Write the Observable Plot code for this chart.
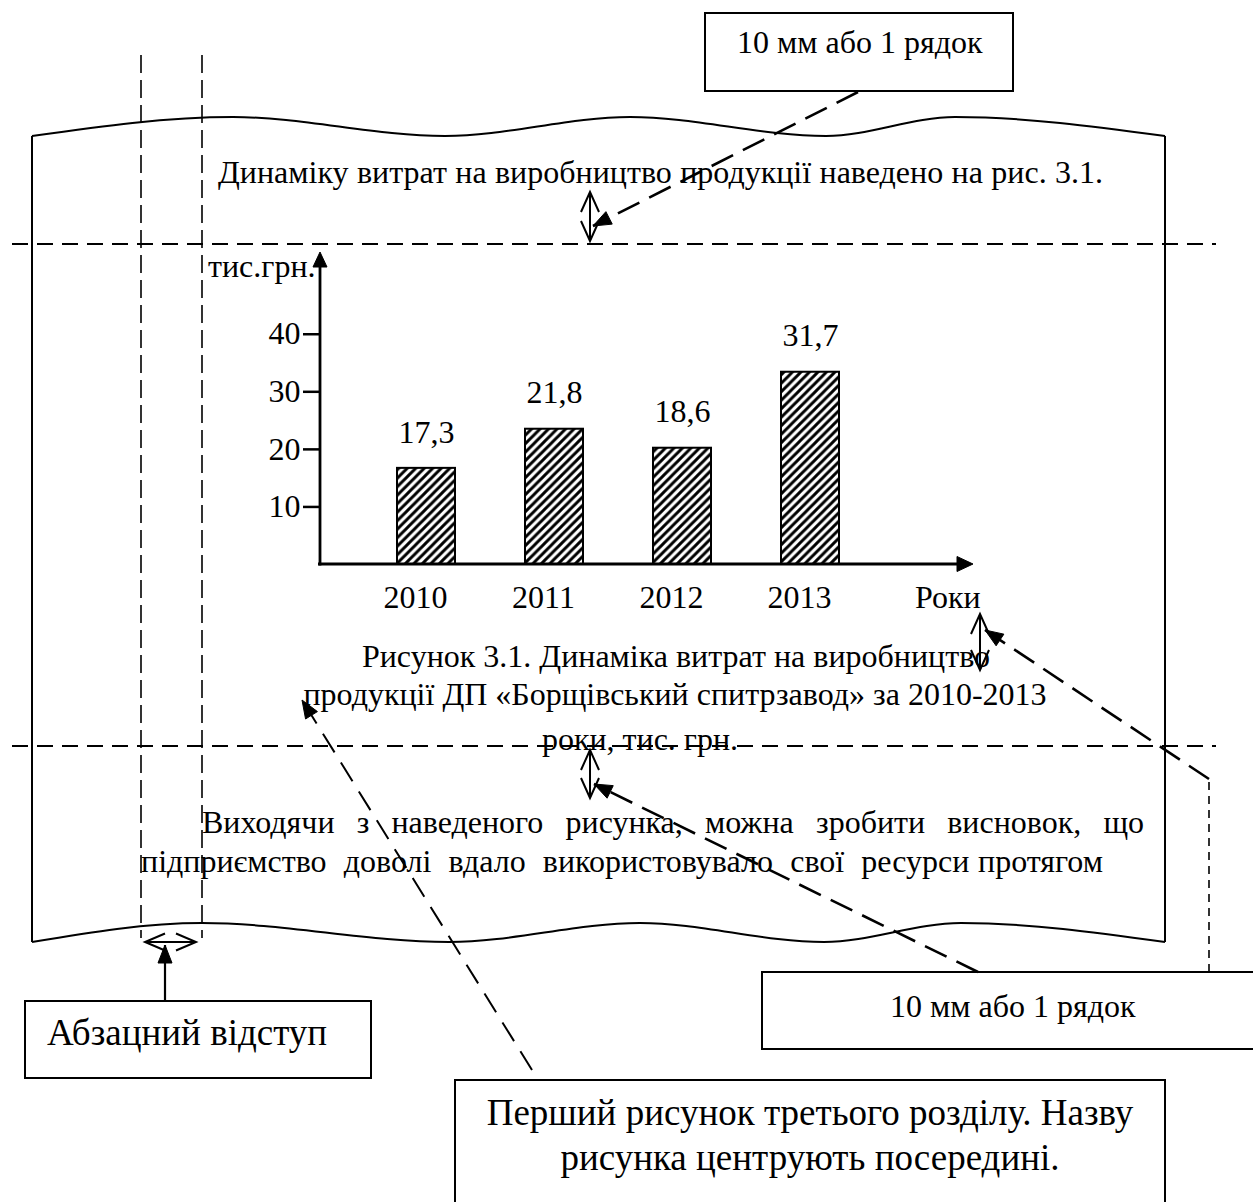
<!DOCTYPE html>
<html lang="uk"><head><meta charset="utf-8">
<script src="https://cdn.jsdelivr.net/npm/d3@7"></script>
<script src="https://cdn.jsdelivr.net/npm/@observablehq/plot@0.6"></script>
<style>
 html,body{margin:0;padding:0;background:#fff;}
 #chart svg{display:block;}
</style></head>
<body><div id="chart"></div>
<script>
// ---- data ----
const years = ["2010", "2011", "2012", "2013"];
const barValues = [16.7, 23.5, 20.2, 33.4];          // bar heights as drawn
const valueLabels = ["17,3", "21,8", "18,6", "31,7"]; // printed labels
const yTicks = [10, 20, 30, 40];
const yAxisTitle = "тис.грн.";
const xAxisTitle = "Роки";
const introLine = "Динаміку витрат на виробництво продукції наведено на рис. 3.1.";
const captionLines = [
  "Рисунок 3.1. Динаміка витрат на виробництво",
  "продукції ДП «Борщівський спитрзавод» за 2010-2013",
  "роки, тис. грн."
];
const paragraphLines = [
  "Виходячи з наведеного рисунка, можна зробити висновок, що",
  "підприємство  доволі  вдало  використовувало  свої  ресурси протягом"
];
const noteTop = "10 мм або 1 рядок";
const noteRight = "10 мм або 1 рядок";
const noteIndent = "Абзацний відступ";
const noteFigure = ["Перший рисунок третього розділу. Назву", "рисунка центрують посередині."];

const table = years.map((year, i) => ({year, value: barValues[i], label: valueLabels[i]}));

// ---- chart ----
const W = 1253, H = 1202;
const FONT = "'Liberation Serif','Times New Roman',Times,serif";
const plot = Plot.plot({
  width: W, height: H,
  marginLeft: 320, marginRight: W - 973, marginTop: 252, marginBottom: H - 564,
  style: {fontFamily: FONT, fontSize: "32px", color: "#000", background: "#fff"},
  x: {type: "band", domain: years, paddingInner: 0.547, paddingOuter: 0.824, align: 0.365, label: null},
  y: {domain: [0, 54.2], label: null},
  marks: [
    Plot.barY(table, {x: "year", y: "value", fill: "url(#hatch)", stroke: "#000", strokeWidth: 2}),
    Plot.text(table, {x: "year", y: "value", text: "label", dy: -36, fontSize: 32, fill: "#000"}),
    Plot.axisY({ticks: yTicks, tickSize: 17, tickPadding: 3, strokeWidth: 2.5, fontSize: 32, label: null}),
    Plot.axisX({tickSize: 0, tickPadding: 21, dx: -11, fontSize: 32, label: null})
  ]
});
document.getElementById("chart").append(plot);

// ---- decorations ----
const svg = d3.select(plot);
const defs = svg.insert("defs", ":first-child");
const hs = 8.5;
const pat = defs.append("pattern").attr("id", "hatch").attr("patternUnits", "userSpaceOnUse")
  .attr("width", hs).attr("height", hs);
pat.append("rect").attr("width", hs).attr("height", hs).attr("fill", "#fff");
pat.append("path")
  .attr("d", `M${-hs/4},${hs/4}L${hs/4},${-hs/4}M0,${hs}L${hs},0M${hs*3/4},${hs*5/4}L${hs*5/4},${hs*3/4}`)
  .attr("stroke", "#000").attr("stroke-width", 2.9);

const ann = svg.append("g").attr("class", "annotations").attr("text-anchor", "start");
function path(d, o = {}) {
  return ann.append("path").attr("d", d).attr("fill", o.fill || "none").attr("stroke", "#000")
    .attr("stroke-width", o.w || 2).attr("stroke-dasharray", o.dash || null);
}
function seg(a, b, o) { return path(`M${a}L${b}`, o); }
function unit(tip, from) {
  const dx = tip[0] - from[0], dy = tip[1] - from[1], d = Math.hypot(dx, dy);
  return [dx / d, dy / d];
}
function head(tip, from, L, w) {
  const [ux, uy] = unit(tip, from), bx = tip[0] - ux * L, by = tip[1] - uy * L;
  return `M${tip}L${bx - uy * w},${by + ux * w}L${bx + uy * w},${by - ux * w}Z`;
}
function chev(tip, from, L, w) {
  const [ux, uy] = unit(tip, from), bx = tip[0] - ux * L, by = tip[1] - uy * L;
  return `M${bx - uy * w},${by + ux * w}L${tip}L${bx + uy * w},${by - ux * w}`;
}
function dbl(a, b, L = 20, w = 9) { seg(a, b, {w: 2}); path(chev(a, b, L, w), {w: 2}); path(chev(b, a, L, w), {w: 2}); }
function leader(from, tip, o) { seg(from, tip, o); path(head(tip, from, 18, 7), {fill: "#000", w: 1}); }
function text(str, x, y, size, anchor = "start") {
  return ann.append("text").attr("x", x).attr("y", y).attr("font-size", size).attr("font-family", FONT)
    .attr("text-anchor", anchor).attr("fill", "#000").text(str);
}
// justified line: one text element, each word a tspan placed at a measured x;
// runs of spaces weight the gaps (a double space gets twice the stretch)
function justify(str, x0, x1, y, size) {
  const parts = str.split(/(\s+)/);
  const words = parts.filter((p, i) => i % 2 === 0);
  const weights = parts.filter((p, i) => i % 2 === 1).map(s => s.length);
  const widths = words.map(w => {
    const tmp = text(w, 0, -100, size);
    const len = tmp.node().getComputedTextLength();
    tmp.remove();
    return len;
  });
  const gap = (x1 - x0 - d3.sum(widths)) / d3.sum(weights);
  const t = ann.append("text").attr("y", y).attr("font-size", size).attr("font-family", FONT)
    .attr("text-anchor", "start").attr("fill", "#000");
  let x = x0;
  words.forEach((w, i) => {
    t.append("tspan").attr("x", x.toFixed(1)).attr("y", y).text(w);
    x += widths[i] + gap * (weights[i] || 0);
  });
}

// axes with arrowheads, from the chart scales
const ys = plot.scale("y"), xs = plot.scale("x");
const yBase = ys.apply(0), yTop = ys.apply(ys.domain[1]);
const xLeft = xs.range[0], xEnd = xs.range[1];
seg([xLeft, yBase + 1.5], [xLeft, yTop + 12], {w: 2.8});
path(head([xLeft, yTop], [xLeft, yBase], 15, 7), {fill: "#000", w: 1});
seg([xLeft - 2, yBase], [xEnd - 12, yBase], {w: 2.8});
path(head([xEnd, yBase], [xLeft, yBase], 16, 7.5), {fill: "#000", w: 1});
text(yAxisTitle, xLeft - 112, yTop + 25, 32);
text(xAxisTitle, xEnd - 58, yBase + 44, 32);

// text body
justify(introLine, 218, 1103, 183, 32);
text(captionLines[0], 676, 667, 32, "middle");
text(captionLines[1], 675, 705, 32, "middle");
text(captionLines[2], 640, 750, 32, "middle");
justify(paragraphLines[0], 202, 1144, 833, 32);
justify(paragraphLines[1], 141, 1103, 872, 32);

// page with wavy edges
const wave = d3.line().curve(d3.curveMonotoneX);
path(wave([[32,136],[233,117],[445,136],[630,117],[826,136],[955,117],[1165,136]]), {w: 2});
path(wave([[32,942],[202,923],[449,942],[640,923],[824,942],[961,923],[1165,942]]), {w: 2});
seg([32,136],[32,942], {w: 2});
seg([1165,136],[1165,942], {w: 2});

// guide lines
seg([12,244],[1216,244], {dash: "16,9", w: 2});
seg([12,746],[1216,746], {dash: "16,9", w: 2});
seg([141,55],[141,938], {dash: "18,7", w: 1.6});
seg([202,55],[202,938], {dash: "18,7", w: 1.6});

// spacing arrows
dbl([590,192],[590,241]);
dbl([980,614],[980,670]);
dbl([590,750],[590,798]);
dbl([145,942],[196,942], 20, 8.5);

// leaders
leader([858,92],[593,226], {dash: "24,11", w: 2.6});
seg([1209,972],[1209,779], {dash: "8,6", w: 1.6});
leader([1209,779],[985,630], {dash: "24,11", w: 2.6});
leader([978,972],[594,784], {dash: "24,11", w: 2.6});
leader([532,1070],[302,700], {dash: "22,12", w: 2});
leader([165,1001],[165,945], {w: 2.2});

// note boxes
function box(x, y, w, h) {
  ann.append("rect").attr("x", x).attr("y", y).attr("width", w).attr("height", h)
    .attr("fill", "none").attr("stroke", "#000").attr("stroke-width", 2);
}
box(705, 13, 308, 78);
text(noteTop, 737, 53, 32);
box(762, 972, 520, 77);
text(noteRight, 890, 1017, 32);
box(25, 1001, 346, 77);
text(noteIndent, 47, 1045, 37);
box(455, 1080, 710, 160);
text(noteFigure[0], 810, 1125, 37, "middle");
text(noteFigure[1], 810, 1170, 37, "middle");
</script>
</body></html>
